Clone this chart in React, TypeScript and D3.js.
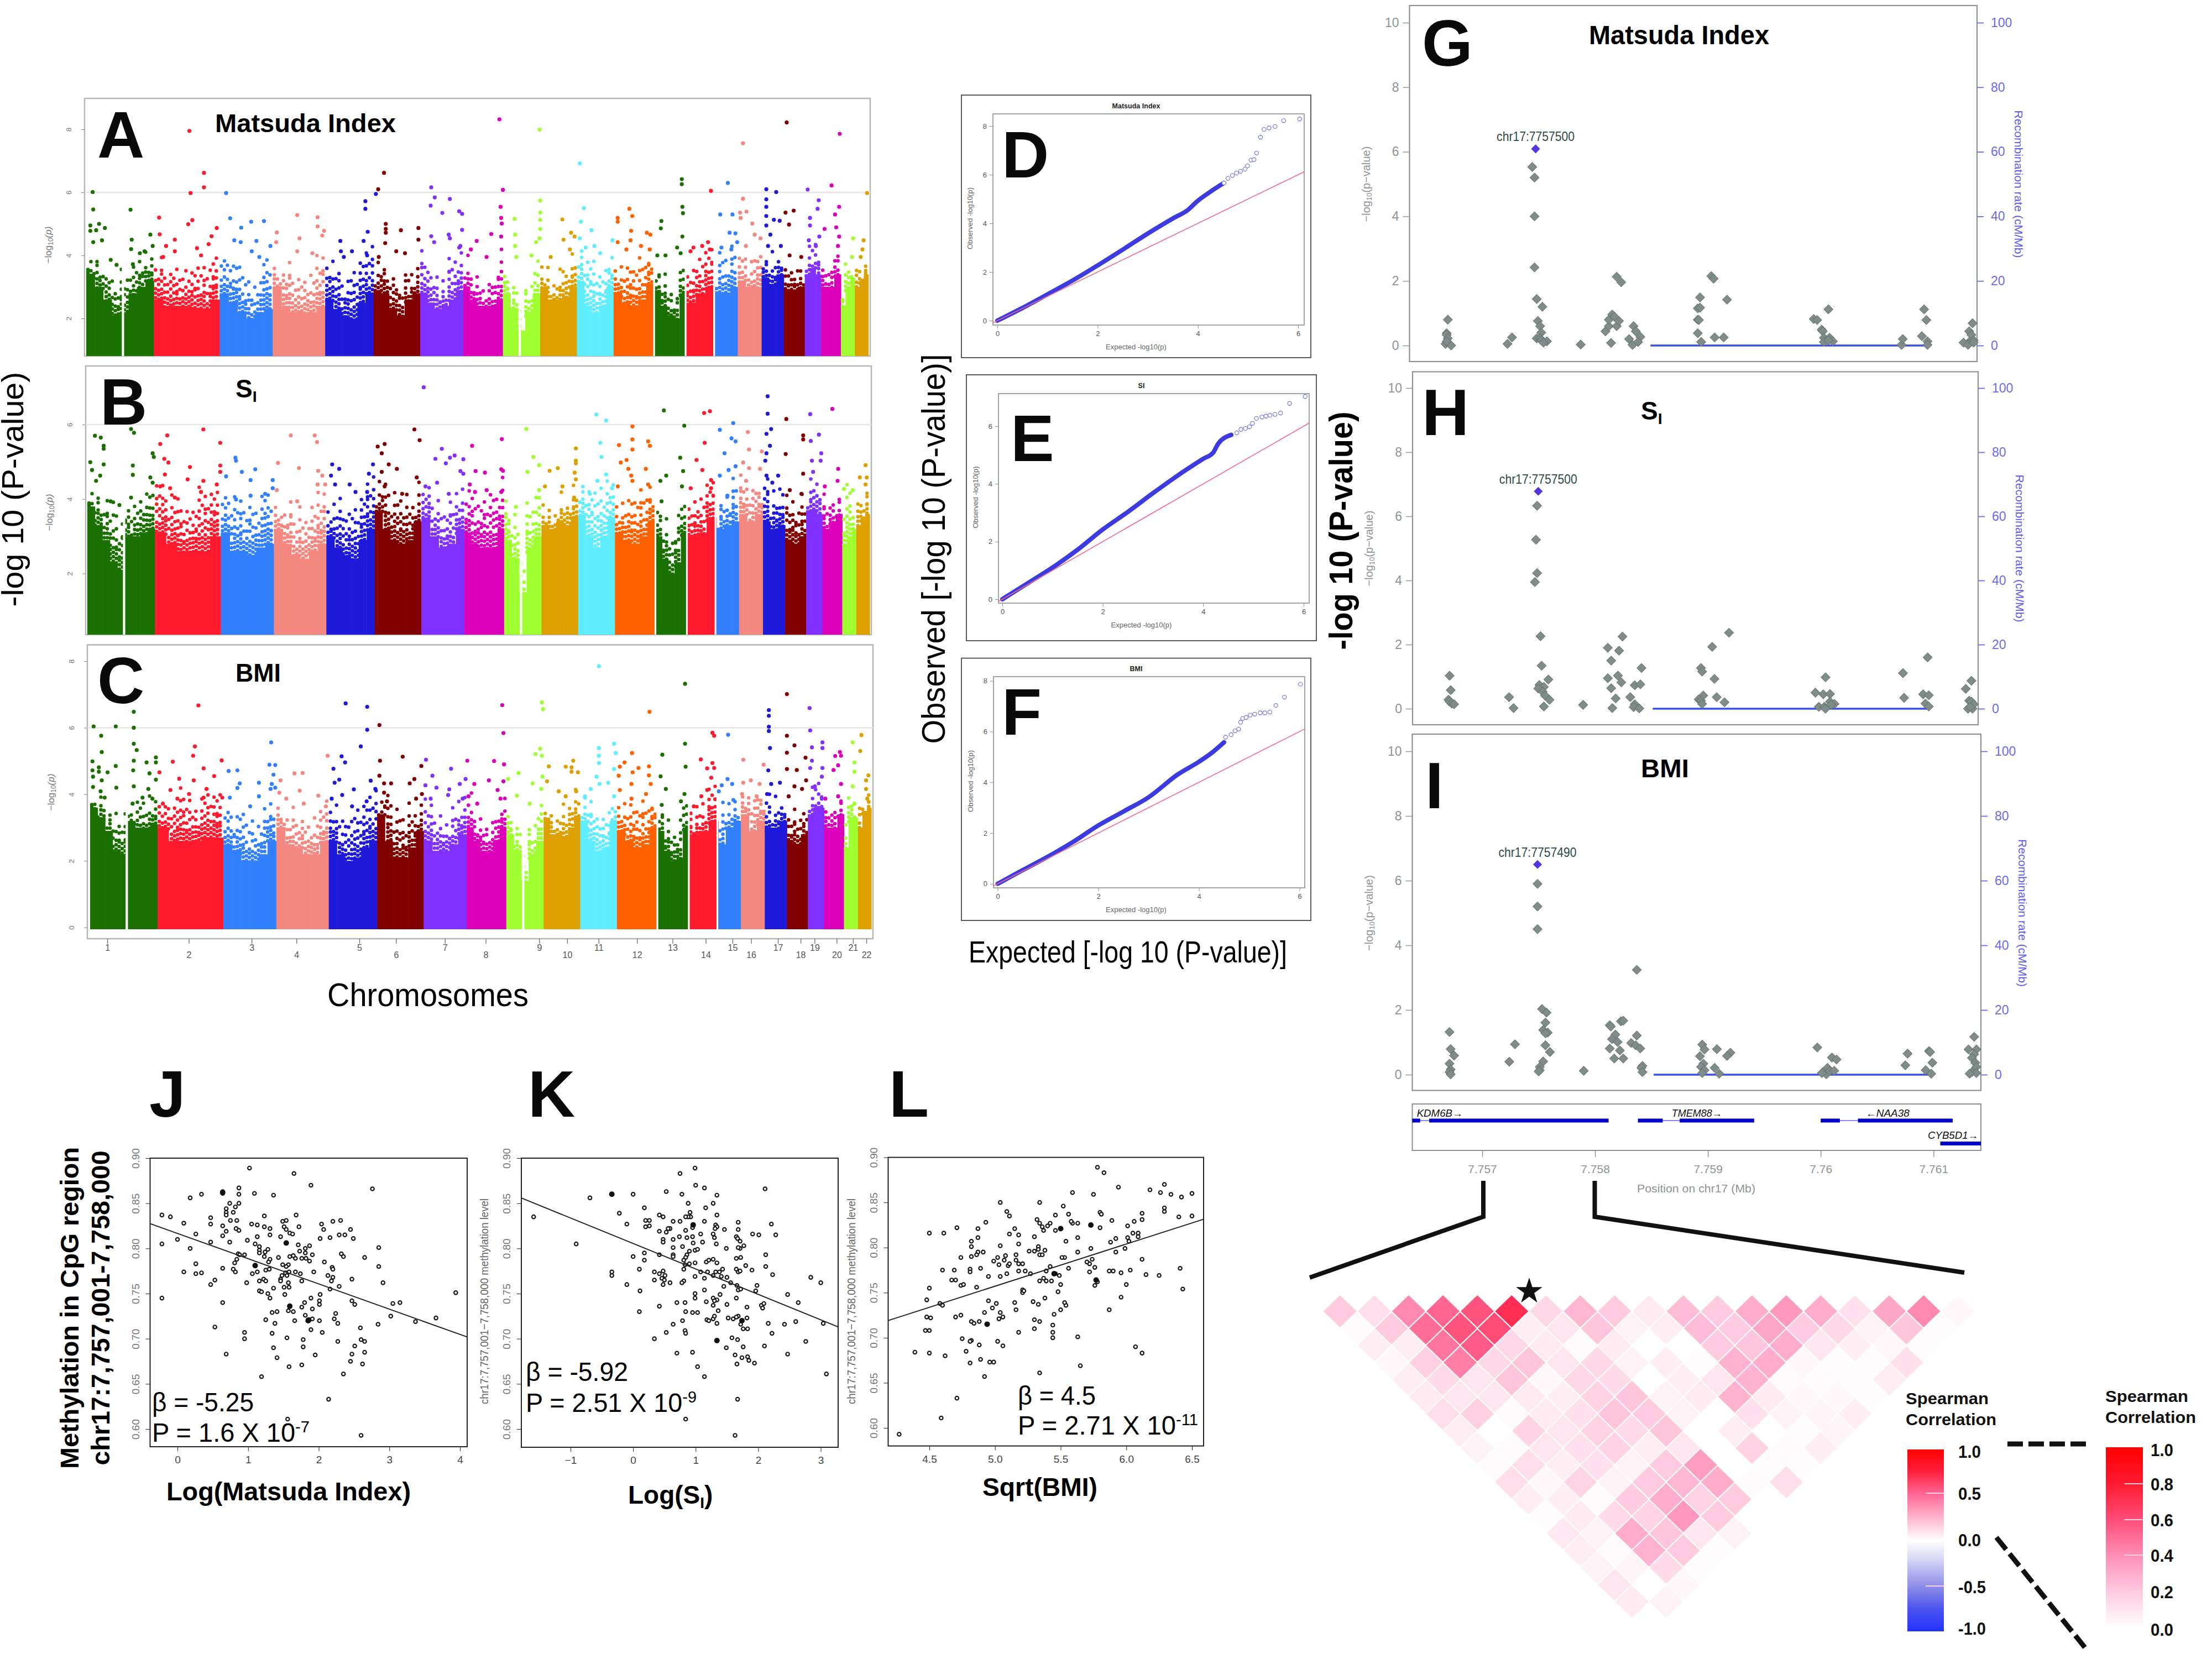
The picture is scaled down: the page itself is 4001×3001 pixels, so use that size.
import * as d3 from "d3";
import { useEffect, useRef } from "react";

const FONT = "'Liberation Sans', Arial, sans-serif";

// -----------------------------
// MANHATTAN DATA (plot units along the genome)
// -----------------------------
const chrStart = [0, 116, 229, 320, 410, 493, 573, 647, 715, 779, 842, 905, 975, 1029, 1079, 1118, 1159, 1197, 1233, 1261, 1295, 1319, 1342];
const chrColors = ["#1a7000", "#ff1a2e", "#3380ff", "#f48880", "#1f1ad9", "#800000", "#8030ff", "#dd00bb", "#a0ff30", "#dda000", "#60eeff", "#ff6000", "#1a7000", "#ff1a2e", "#3380ff", "#f48880", "#1f1ad9", "#800000", "#8030ff", "#dd00bb", "#a0ff30", "#dda000"];
const chrLabels = ["1", "2", "3", "4", "5", "6", "7", "8", "9", "10", "11", "12", "13", "14", "15", "16", "17", "18", "19", "20", "21", "22"];
const chrTicks = [30, 170, 278, 355, 463, 526, 610, 680, 772, 820, 874, 940, 1001, 1058, 1104, 1136, 1182, 1221, 1245, 1283, 1311, 1334];
const gaps = [[61, 65], [742, 746], [973, 976], [1027, 1030], [1076, 1079]];

const solidA = [[3.4, 3.0, 2.6, 2.1, 2.2, 2.8, 3.0, 3.2], [2.6, 2.4, 2.4, 2.4, 2.3, 2.3, 2.6], [2.8, 2.5, 2.2, 2.0, 2.2, 2.3], [3.0, 2.4, 2.2, 2.2, 2.2, 2.4], [2.6, 2.3, 2.1, 2.0, 2.5, 2.8], [2.9, 2.8, 2.3, 2.1, 2.6, 2.8], [2.8, 2.5, 2.3, 2.4, 2.6, 2.9], [3.0, 2.6, 2.4, 2.4, 2.4, 2.6], [2.8, 2.3, 1.6, 2.2, 2.8], [3.0, 2.6, 2.6, 2.7, 3.0], [3.2, 2.4, 2.2, 2.4, 3.0], [2.8, 2.5, 2.4, 2.6, 3.1], [2.9, 2.4, 2.1, 2.0, 2.8], [2.5, 2.8, 3.0], [2.8, 2.8, 3.0], [3.2, 3.0, 3.0], [3.3, 3.1, 3.4], [2.9, 2.9, 3.0], [3.4, 3.6, 3.4], [3.0, 3.0, 3.4], [2.4, 3.0, 3.3], [3.0, 3.2, 3.4]];
const cloudA = [[4.0, 3.9, 3.5, 3.0, 3.5, 3.6, 3.8, 3.8], [3.8, 3.6, 3.6, 3.5, 3.7, 3.5, 3.8], [3.9, 3.8, 3.4, 3.0, 3.2, 4.0], [3.6, 3.6, 3.4, 3.3, 3.3, 3.9], [3.9, 3.5, 3.2, 3.5, 3.8, 4.0], [3.7, 3.6, 3.4, 3.0, 3.4, 3.6], [4.0, 3.4, 3.2, 3.3, 3.8, 3.9], [3.7, 3.5, 3.2, 3.0, 3.2, 3.9], [3.3, 3.0, 2.2, 2.9, 3.7], [3.7, 3.4, 3.3, 3.6, 3.8], [4.3, 3.9, 3.6, 3.5, 3.8], [3.6, 3.6, 3.6, 3.6, 4.1], [3.6, 3.2, 2.8, 2.6, 3.6], [3.5, 3.9, 4.1], [3.8, 3.9, 4.0], [4.0, 3.6, 4.0], [4.0, 3.8, 4.0], [3.6, 3.4, 3.6], [4.0, 4.2, 4.0], [3.5, 3.5, 4.2], [2.9, 3.6, 4.0], [3.5, 3.7, 3.7]];
const dotsA = [
  [[11, 6.01], [12, 5.46], [7, 4.95], [22, 5.0], [32, 4.87], [17, 4.8], [7, 4.78], [27, 4.48], [12, 4.42], [42, 3.86], [52, 3.7], [76, 5.45], [78, 4.5], [77, 4.2], [100, 4.13], [110, 4.66], [114, 4.3], [92, 4.07], [80, 3.72]],
  [[125, 5.2], [126, 4.67], [137, 4.3], [152, 4.5], [152, 4.13], [177, 7.95], [179, 5.98], [202, 6.62], [202, 6.16], [182, 5.12], [175, 4.99], [224, 4.87], [215, 4.61], [210, 4.36], [190, 4.23], [197, 4.0], [132, 3.95]],
  [[240, 5.98], [247, 5.18], [266, 4.88], [283, 5.07], [305, 5.09], [254, 4.48], [265, 4.42], [292, 4.46], [284, 4.13], [316, 4.3], [297, 3.95]],
  [[327, 4.73], [362, 5.28], [366, 4.54], [397, 5.21], [397, 4.92], [408, 4.78], [326, 4.42], [362, 4.13], [388, 4.07], [405, 4.63]],
  [[479, 5.72], [479, 5.48], [497, 5.95], [483, 4.75], [436, 4.46], [476, 4.46], [456, 4.13], [437, 4.13], [442, 3.95], [482, 4.0]],
  [[501, 6.1], [511, 6.62], [514, 5.0], [514, 4.84], [514, 4.72], [513, 4.39], [540, 4.8], [570, 4.87], [570, 4.5], [532, 4.13], [547, 4.07], [502, 3.95]],
  [[592, 6.16], [598, 5.84], [591, 5.58], [624, 5.79], [611, 5.35], [640, 5.4], [645, 5.32], [645, 4.81], [592, 4.61], [622, 4.66], [597, 4.42], [642, 4.3], [624, 4.54], [640, 4.25]],
  [[709, 8.32], [715, 6.08], [711, 5.54], [712, 5.19], [713, 5.01], [695, 4.68], [670, 4.46], [712, 4.6], [660, 4.19], [687, 3.95]],
  [[735, 5.16], [736, 4.66], [736, 4.3], [738, 3.95], [778, 7.99], [779, 5.74], [779, 5.36], [779, 5.13], [779, 4.84], [778, 4.54], [772, 4.42], [764, 4.0]],
  [[817, 5.14], [832, 4.72], [819, 4.5], [830, 4.19], [838, 4.6], [797, 3.95]],
  [[847, 6.92], [854, 5.5], [849, 5.07], [867, 4.8], [847, 4.54], [872, 4.3], [903, 4.48], [882, 4.07], [857, 4.25]],
  [[912, 5.19], [932, 5.48], [937, 5.25], [912, 5.07], [935, 4.78], [962, 4.72], [934, 4.48], [968, 4.66], [912, 4.42], [952, 4.3], [967, 4.19], [927, 4.19]],
  [[987, 5.09], [986, 4.86], [1022, 6.42], [1022, 6.26], [1023, 5.54], [1024, 5.34], [1023, 4.6], [1014, 4.25], [980, 4.0], [994, 4.0], [1020, 4.07]],
  [[1072, 6.05], [1067, 4.42], [1042, 4.25], [1057, 4.3], [1037, 4.13], [1070, 4.19]],
  [[1101, 6.3], [1088, 5.3], [1109, 5.3], [1117, 4.42], [1104, 4.72], [1114, 4.7], [1090, 4.25], [1107, 4.19]],
  [[1127, 7.56], [1127, 5.8], [1122, 5.36], [1133, 5.39], [1123, 5.19], [1143, 5.01], [1157, 4.54], [1132, 4.3], [1147, 4.66]],
  [[1167, 6.1], [1167, 5.78], [1167, 5.54], [1167, 5.25], [1167, 4.95], [1184, 6.01], [1190, 5.1], [1174, 4.66], [1192, 4.3], [1170, 4.3], [1180, 5.13]],
  [[1202, 8.22], [1214, 5.42], [1200, 5.36], [1206, 4.98], [1207, 4.0], [1227, 3.95]],
  [[1238, 6.09], [1257, 5.75], [1255, 5.48], [1242, 5.19], [1242, 4.95], [1258, 4.6], [1240, 4.48], [1252, 4.3]],
  [[1293, 7.86], [1279, 6.22], [1292, 5.54], [1285, 5.3], [1287, 4.89], [1267, 4.84], [1292, 4.6], [1290, 4.3]],
  [[1316, 4.54], [1314, 3.95]],
  [[1340, 5.98], [1334, 4.48], [1332, 4.19], [1329, 3.95]],
];

const solidB = [[3.8, 3.3, 2.9, 2.3, 2.1, 3.0, 3.0, 3.1, 3.2], [3.1, 2.8, 2.6, 2.6, 2.6, 3.0], [3.1, 2.6, 2.6, 2.5, 2.7, 2.8], [3.2, 2.8, 2.5, 2.4, 2.6, 2.8], [3.0, 2.7, 2.5, 2.4, 2.9, 3.2], [3.7, 3.2, 2.9, 2.8, 2.9, 3.4], [3.5, 3.0, 2.7, 2.8, 3.2], [3.1, 2.8, 2.7, 2.7, 2.7, 3.2], [2.9, 2.4, 1.5, 2.7, 3.0], [3.3, 3.2, 3.4, 3.3, 3.5], [3.6, 3.0, 2.7, 3.0, 3.5], [3.1, 2.9, 2.8, 3.0, 3.4], [3.0, 2.4, 2.0, 2.3, 3.1], [3.0, 3.1, 3.5], [3.2, 3.3, 3.4], [3.6, 3.4, 3.6], [3.4, 3.2, 3.3], [2.9, 2.8, 3.0], [3.7, 3.7, 3.6], [3.2, 3.4, 3.6], [2.8, 3.0, 3.2], [3.3, 3.5, 3.6]];
const cloudB = [[4.3, 4.1, 3.9, 3.6, 3.3, 3.8, 3.8, 4.0, 4.2], [4.3, 4.0, 3.7, 3.9, 4.2, 4.1], [4.1, 3.9, 3.8, 3.8, 3.9, 4.2], [3.8, 3.7, 3.6, 3.6, 3.8, 4.1], [3.8, 3.7, 3.7, 3.8, 4.0, 4.4], [4.4, 4.2, 4.0, 4.0, 3.9, 4.1], [4.2, 3.9, 3.7, 3.8, 4.1], [4.1, 4.1, 3.9, 4.0, 4.1, 4.3], [3.7, 3.4, 2.4, 3.7, 4.0], [3.9, 3.8, 3.9, 3.9, 4.1], [4.4, 4.3, 4.0, 4.2, 4.3], [3.9, 4.0, 4.1, 4.0, 4.3], [3.8, 3.4, 3.0, 3.4, 3.9], [3.9, 4.0, 4.3], [3.8, 4.0, 4.3], [4.4, 4.1, 4.2], [4.6, 4.0, 4.2], [4.0, 3.7, 4.1], [4.3, 4.3, 4.2], [3.8, 3.9, 4.1], [3.6, 4.2, 4.2], [3.9, 4.2, 4.4]];
const dotsB = [
  [[13, 5.7], [23, 5.65], [28, 5.43], [28, 5.35], [5, 4.99], [28, 4.93], [8, 4.78], [22, 4.63], [15, 4.49], [75, 5.88], [80, 5.78], [78, 4.9], [78, 4.65], [112, 5.23], [114, 5.13], [108, 4.58], [112, 4.44], [75, 4.04], [40, 3.94], [55, 3.84]],
  [[125, 5.48], [137, 5.71], [132, 5.08], [139, 4.98], [133, 4.66], [199, 5.87], [228, 5.51], [176, 4.86], [228, 4.9], [172, 4.53], [228, 4.73], [199, 4.49], [222, 4.39], [142, 4.29], [195, 4.19], [150, 4.04], [125, 4.34]],
  [[254, 5.11], [255, 5.03], [265, 4.73], [288, 4.8], [280, 4.51], [238, 4.61], [318, 4.51], [255, 3.99], [305, 4.14], [280, 4.09], [318, 4.29]],
  [[327, 4.97], [349, 5.71], [390, 5.71], [394, 5.53], [363, 4.83], [396, 4.76], [403, 4.63], [408, 4.39], [395, 4.39], [325, 4.24], [360, 3.94]],
  [[420, 4.93], [432, 4.81], [418, 4.63], [490, 4.93], [483, 4.68], [425, 4.39], [450, 4.39], [480, 4.19], [460, 4.19]],
  [[498, 5.41], [510, 5.48], [505, 5.23], [517, 4.93], [531, 4.81], [505, 4.73], [561, 5.87], [570, 5.58], [565, 4.58], [510, 4.34], [540, 4.14]],
  [[577, 7.0], [608, 5.35], [630, 5.17], [597, 5.08], [622, 5.11], [615, 4.96], [645, 5.07], [640, 4.75], [645, 4.68], [600, 4.44], [620, 4.14], [580, 4.34]],
  [[660, 5.43], [711, 5.61], [666, 4.75], [682, 4.71], [710, 4.8], [713, 4.76], [656, 4.39], [685, 4.24], [710, 4.19], [665, 4.19]],
  [[753, 5.88], [765, 5.13], [775, 4.91], [755, 4.73], [735, 3.79], [775, 4.24], [770, 4.04]],
  [[838, 5.36], [838, 5.03], [838, 4.96], [793, 4.76], [807, 4.83], [836, 4.71], [838, 4.53], [815, 4.34], [785, 4.34], [835, 4.04]],
  [[873, 6.27], [890, 6.11], [880, 5.51], [882, 5.13], [890, 4.66], [875, 4.49], [862, 4.14], [900, 4.29]],
  [[935, 5.95], [912, 5.45], [935, 5.6], [935, 5.33], [962, 5.55], [965, 5.43], [925, 5.05], [915, 4.98], [928, 4.81], [933, 4.63], [958, 4.81], [935, 4.49], [962, 4.39], [910, 4.34]],
  [[989, 6.38], [1024, 5.97], [1017, 5.11], [1022, 4.75], [993, 4.63], [983, 4.49], [1020, 4.34], [985, 3.94]],
  [[1058, 6.31], [1068, 6.36], [1059, 5.51], [1045, 5.05], [1055, 4.78], [1070, 4.51], [1035, 4.29], [1070, 4.29]],
  [[1085, 5.86], [1108, 6.04], [1105, 5.63], [1112, 5.55], [1093, 5.23], [1112, 4.88], [1100, 4.78], [1085, 4.63], [1098, 4.09]],
  [[1133, 5.8], [1135, 5.33], [1157, 5.28], [1125, 4.98], [1135, 4.83], [1154, 4.81], [1130, 4.49]],
  [[1167, 6.76], [1167, 6.29], [1173, 5.88], [1165, 5.75], [1171, 5.43], [1165, 5.23], [1163, 5.03], [1165, 4.63], [1185, 4.63], [1175, 4.44]],
  [[1199, 6.15], [1228, 5.71], [1228, 5.6], [1198, 5.21], [1228, 4.68], [1205, 4.24], [1225, 4.14]],
  [[1240, 6.28], [1255, 5.73], [1241, 5.56], [1259, 5.23], [1243, 5.03], [1258, 5.03], [1245, 4.73]],
  [[1278, 6.42], [1288, 4.81], [1265, 4.34], [1287, 4.49]],
  [[1298, 4.27], [1313, 4.24]],
  [[1335, 4.91], [1325, 4.58], [1337, 4.58], [1335, 4.39]],
];

const solidC = [[3.6, 3.3, 2.9, 2.3, 2.2, 3.2, 3.0, 3.0, 3.1], [3.0, 2.6, 2.6, 2.6, 2.7, 2.7], [2.5, 2.3, 2.0, 2.0, 2.2, 2.6], [3.0, 2.5, 2.4, 2.2, 2.2, 2.6], [2.6, 2.2, 2.0, 2.1, 2.4, 2.6], [3.4, 2.6, 2.1, 2.1, 2.4, 2.9], [2.6, 2.3, 2.3, 2.5, 2.8], [3.0, 2.6, 2.3, 2.3, 2.6, 3.0], [2.8, 2.3, 1.4, 2.2, 2.6], [3.3, 2.8, 2.8, 2.7, 3.0, 3.3], [3.2, 2.6, 2.3, 2.4, 3.2], [2.9, 2.6, 2.4, 2.5, 3.0], [2.9, 2.3, 2.0, 2.1, 3.0], [2.8, 2.9, 3.2], [2.5, 3.0, 3.2], [3.4, 2.9, 3.2], [3.0, 3.0, 3.2], [2.6, 2.5, 2.8], [3.4, 3.6, 3.6], [3.0, 3.0, 3.4], [2.4, 3.3, 3.3], [3.0, 3.5, 3.6]];
const cloudC = [[4.1, 3.9, 3.5, 3.3, 3.3, 3.5, 3.7, 3.7, 3.7], [3.7, 3.8, 3.9, 3.6, 3.9, 3.9], [3.5, 3.4, 3.2, 3.1, 3.3, 3.6], [3.6, 3.3, 3.2, 3.1, 3.2, 3.6], [3.7, 3.2, 3.3, 3.6, 3.7, 3.9], [3.9, 3.8, 3.4, 3.2, 3.5, 3.7], [3.7, 3.3, 3.2, 3.4, 3.7], [3.8, 3.4, 3.2, 3.2, 3.4, 3.8], [3.3, 3.0, 2.2, 3.0, 3.6], [3.6, 3.5, 3.5, 3.5, 3.8, 3.8], [4.0, 3.8, 3.3, 3.4, 3.7], [3.7, 3.7, 3.6, 3.5, 3.9], [3.6, 3.0, 2.8, 2.9, 3.7], [3.5, 3.6, 4.1], [3.5, 3.6, 3.7], [3.9, 3.7, 3.9], [3.9, 3.6, 3.8], [3.3, 3.2, 3.6], [3.9, 4.2, 4.1], [3.4, 3.5, 3.9], [3.2, 3.7, 3.9], [3.6, 3.8, 4.1]];
const dotsC = [
  [[6, 6.04], [44, 6.04], [75, 6.48], [75, 6.0], [19, 5.76], [75, 5.52], [80, 5.33], [20, 5.27], [4, 4.99], [15, 4.81], [44, 4.85], [75, 5.01], [74, 4.72], [97, 4.96], [113, 5.11], [113, 4.96], [4, 4.72], [15, 4.68], [30, 4.66], [5, 4.53], [20, 4.42], [5, 4.22], [45, 4.2], [18, 4.09], [102, 4.63], [113, 4.44], [100, 4.16], [75, 4.24], [25, 3.9], [90, 3.9], [73, 3.72], [107, 3.87]],
  [[186, 6.67], [180, 5.44], [177, 5.16], [142, 4.98], [226, 5.02], [195, 4.78], [213, 4.55], [119, 4.66], [153, 4.47], [178, 4.42], [200, 4.16], [138, 4.13], [170, 4.01], [195, 3.9], [227, 3.9], [150, 3.87], [125, 3.72]],
  [[311, 5.56], [238, 4.7], [253, 4.72], [308, 4.89], [318, 4.88], [315, 4.59], [257, 4.33], [290, 4.35], [312, 4.31], [253, 4.19], [310, 4.16], [318, 4.2], [240, 3.9], [290, 3.94], [275, 3.64]],
  [[408, 5.16], [351, 4.63], [365, 4.64], [327, 4.42], [360, 4.11], [325, 4.05], [392, 3.96], [337, 3.87], [367, 3.72], [405, 3.64]],
  [[439, 6.73], [476, 6.63], [476, 5.94], [465, 5.44], [432, 5.14], [438, 4.96], [418, 4.77], [420, 4.35], [428, 4.44], [482, 4.41], [453, 4.15], [415, 3.87], [433, 3.98], [490, 4.16], [450, 3.64], [475, 3.79]],
  [[497, 6.08], [498, 5.01], [537, 5.13], [569, 4.85], [497, 4.56], [557, 4.46], [505, 4.33], [517, 4.33], [549, 4.33], [505, 4.05], [570, 4.01], [510, 3.79], [560, 3.87]],
  [[577, 5.04], [620, 4.77], [588, 4.56], [576, 4.27], [635, 4.31], [595, 4.2], [617, 4.15], [645, 4.46], [615, 3.98], [585, 3.87], [640, 3.87]],
  [[648, 5.01], [694, 5.0], [708, 6.68], [710, 5.84], [711, 4.9], [685, 4.42], [710, 4.39], [660, 4.31], [700, 4.13], [650, 3.94], [705, 3.87], [665, 3.72]],
  [[736, 4.64], [718, 4.46], [733, 3.96], [776, 6.76], [778, 6.56], [773, 5.37], [765, 5.21], [776, 5.16], [777, 4.53], [760, 4.33], [775, 4.16], [755, 3.72]],
  [[788, 4.84], [830, 5.01], [817, 4.83], [827, 4.81], [827, 4.68], [838, 4.66], [785, 4.39], [805, 4.09], [835, 4.09], [817, 3.94]],
  [[874, 7.85], [900, 5.52], [874, 5.39], [874, 5.16], [874, 4.94], [903, 5.24], [900, 4.76], [870, 4.53], [875, 4.31], [860, 4.16], [890, 4.35], [900, 3.94], [850, 3.9]],
  [[961, 6.48], [931, 5.24], [918, 4.96], [910, 4.83], [942, 4.79], [960, 4.84], [932, 4.66], [908, 4.56], [960, 4.57], [930, 4.31], [963, 4.31], [910, 4.13], [955, 4.01], [930, 3.87]],
  [[1022, 7.32], [1022, 5.52], [983, 5.19], [1023, 4.83], [980, 4.54], [989, 4.16], [1021, 4.01], [982, 3.68], [1015, 3.79]],
  [[1069, 5.85], [1072, 5.76], [1049, 5.05], [1069, 4.94], [1060, 4.78], [1072, 4.79], [1067, 4.5], [1060, 4.13], [1050, 3.94], [1037, 3.64]],
  [[1096, 5.79], [1095, 4.46], [1085, 4.27], [1103, 4.31], [1080, 4.09], [1105, 3.83]],
  [[1122, 5.04], [1157, 4.89], [1135, 4.42], [1122, 4.35], [1150, 4.31], [1120, 4.01], [1145, 3.94]],
  [[1166, 6.53], [1166, 6.36], [1166, 6.03], [1166, 5.9], [1168, 5.39], [1165, 4.72], [1185, 4.35], [1170, 4.31], [1163, 4.01]],
  [[1197, 7.01], [1197, 5.76], [1210, 5.47], [1197, 5.25], [1197, 4.76], [1214, 4.73], [1229, 5.1], [1230, 4.42], [1210, 4.24], [1223, 4.16], [1200, 3.94]],
  [[1236, 6.59], [1237, 5.92], [1258, 5.56], [1240, 5.41], [1258, 5.39], [1240, 5.01], [1258, 4.79], [1237, 4.79], [1257, 4.53], [1245, 4.24]],
  [[1288, 5.27], [1280, 5.15], [1290, 5.16], [1285, 4.87], [1277, 4.73], [1290, 4.31], [1263, 3.87], [1285, 3.94]],
  [[1310, 5.56], [1313, 4.96], [1313, 4.68], [1310, 4.24], [1313, 3.72]],
  [[1325, 5.78], [1323, 5.3], [1337, 4.57], [1333, 4.42], [1333, 4.16], [1335, 3.87]],
];

// -----------------------------
// QQ DATA
// -----------------------------
const qqDenseD = [[0, 0], [0.5, 0.52], [1, 1.08], [1.5, 1.65], [2, 2.27], [2.5, 2.92], [3, 3.58], [3.5, 4.2], [3.8, 4.55], [4, 4.93], [4.25, 5.3], [4.52, 5.66]];
const qqTailD = [[4.52, 5.66], [4.6, 5.85], [4.69, 5.97], [4.77, 6.07], [4.85, 6.14], [4.94, 6.23], [4.99, 6.36], [5.06, 6.6], [5.12, 6.62], [5.17, 6.89], [5.25, 7.54], [5.32, 7.86], [5.42, 7.92], [5.54, 7.98], [5.71, 8.22], [6.03, 8.29]];
const qqDenseE = [[0, 0], [0.5, 0.55], [1, 1.1], [1.5, 1.72], [2, 2.42], [2.5, 3.03], [3, 3.68], [3.5, 4.3], [4, 4.87], [4.2, 5.09], [4.3, 5.4], [4.56, 5.7]];
const qqTailE = [[4.67, 5.77], [4.75, 5.89], [4.84, 5.92], [4.92, 5.98], [4.98, 6.1], [5.06, 6.27], [5.17, 6.32], [5.25, 6.35], [5.33, 6.38], [5.43, 6.41], [5.54, 6.46], [5.72, 6.79], [6.03, 7.03]];
const qqDenseF = [[0, 0], [0.5, 0.54], [1, 1.07], [1.5, 1.65], [2, 2.3], [2.5, 2.85], [3, 3.41], [3.58, 4.31], [4, 4.81], [4.26, 5.17], [4.5, 5.58]];
const qqTailF = [[4.53, 5.78], [4.64, 5.88], [4.72, 6.03], [4.79, 6.1], [4.83, 6.37], [4.87, 6.52], [4.94, 6.56], [5.02, 6.65], [5.11, 6.69], [5.22, 6.74], [5.31, 6.74], [5.41, 6.77], [5.53, 7.03], [5.7, 7.36], [6.02, 7.87]];
const qqXTicks = [0, 2, 4, 6];
const qqYTicksTall = [0, 2, 4, 6, 8];
const qqYTicksShort = [0, 2, 4, 6];

// -----------------------------
// REGIONAL PLOT DATA (position in kb on chr17, -log10 p)
// -----------------------------
const locusG = [[7756.72, 0.8], [7756.71, 0.38], [7756.71, 0.33], [7756.72, 0.22], [7756.7, 0.05], [7756.75, 0], [7756.71, 0.13], [7757.25, 0.05], [7757.29, 0.25], [7757.47, 5.53], [7757.49, 5.2], [7757.49, 4.0], [7757.49, 2.42], [7757.51, 1.44], [7757.56, 1.2], [7757.52, 0.76], [7757.54, 0.6], [7757.55, 0.4], [7757.51, 0.22], [7757.54, 0.22], [7757.55, 0.16], [7757.6, 0.13], [7757.57, 0.09], [7757.9, 0.03], [7758.12, 0.44], [7758.15, 0.6], [7758.15, 0.8], [7758.18, 0.96], [7758.2, 0.89], [7758.22, 0.6], [7758.24, 0.76], [7758.22, 2.13], [7758.26, 1.96], [7758.17, 0.08], [7758.33, 0.2], [7758.36, 0.02], [7758.37, 0.6], [7758.39, 0.44], [7758.43, 0.27], [7758.41, 0.11], [7758.96, 1.49], [7758.94, 1.15], [7758.96, 1.17], [7758.94, 0.8], [7758.95, 0.79], [7758.94, 0.38], [7758.97, 0.11], [7759.06, 2.15], [7759.08, 2.07], [7759.2, 1.42], [7759.09, 0.25], [7759.17, 0.25], [7759.97, 0.82], [7760.0, 0.79], [7760.1, 1.12], [7760.04, 0.49], [7760.05, 0.44], [7760.06, 0.24], [7760.06, 0.11], [7760.11, 0.24], [7760.14, 0.13], [7760.1, 0.16], [7760.75, 0.02], [7760.76, 0.2], [7760.93, 0.29], [7760.95, 1.12], [7760.97, 0.79], [7760.98, 0.13], [7760.98, 0.02], [7761.38, 0.69], [7761.35, 0.44], [7761.37, 0.33], [7761.35, 0.11], [7761.3, 0.09], [7761.39, 0.16], [7761.34, 0.02], [7761.39, 0.09]];
const leadG = [7757.5, 6.09];
const locusH = [[7756.71, 1.03], [7756.72, 0.58], [7756.7, 0.28], [7756.71, 0.22], [7756.73, 0.16], [7756.75, 0.14], [7757.24, 0.36], [7757.28, 0.02], [7757.49, 6.33], [7757.48, 5.27], [7757.49, 4.23], [7757.47, 3.95], [7757.52, 2.26], [7757.53, 1.34], [7757.59, 0.91], [7757.51, 0.74], [7757.55, 0.68], [7757.5, 0.63], [7757.54, 0.53], [7757.56, 0.41], [7757.6, 0.28], [7757.55, 0.07], [7757.9, 0.12], [7758.12, 1.9], [7758.25, 2.25], [7758.22, 1.81], [7758.15, 1.5], [7758.42, 1.27], [7758.12, 0.95], [7758.21, 1.03], [7758.24, 0.82], [7758.15, 0.64], [7758.36, 0.73], [7758.41, 0.76], [7758.19, 0.32], [7758.32, 0.36], [7758.16, 0.02], [7758.36, 0.14], [7758.35, 0.05], [7758.4, 0.01], [7758.95, 1.27], [7758.96, 1.16], [7759.05, 1.93], [7759.2, 2.37], [7759.07, 0.93], [7759.09, 0.36], [7758.97, 0.41], [7758.93, 0.29], [7758.95, 0.25], [7758.96, 0.15], [7759.16, 0.2], [7759.97, 0.5], [7760.06, 0.98], [7760.04, 0.45], [7760.1, 0.46], [7760.1, 0.22], [7760.14, 0.15], [7760.0, 0.06], [7760.05, 0.06], [7760.06, 0], [7760.11, 0.12], [7760.75, 1.11], [7760.76, 0.34], [7760.93, 0.45], [7760.97, 1.6], [7760.98, 0.42], [7760.95, 0.16], [7760.98, 0.07], [7761.31, 0.62], [7761.36, 0.87], [7761.34, 0.25], [7761.36, 0.22], [7761.33, 0], [7761.37, 0], [7761.38, 0.14], [7761.35, 0.06]];
const leadH = [7757.5, 6.78];
const locusI = [[7756.71, 1.32], [7756.72, 0.79], [7756.75, 0.59], [7756.71, 0.34], [7756.72, 0.16], [7756.71, 0.08], [7756.72, 0.01], [7757.29, 0.94], [7757.24, 0.4], [7757.49, 5.9], [7757.49, 5.2], [7757.49, 4.5], [7757.53, 2.03], [7757.57, 1.92], [7757.56, 1.61], [7757.54, 1.38], [7757.58, 1.3], [7757.56, 1.28], [7757.56, 0.91], [7757.6, 0.7], [7757.54, 0.41], [7757.51, 0.24], [7757.51, 0.14], [7757.5, 0.1], [7757.9, 0.12], [7758.13, 1.53], [7758.14, 1.49], [7758.23, 1.65], [7758.25, 1.67], [7758.18, 1.24], [7758.37, 1.21], [7758.15, 1.1], [7758.2, 1.01], [7758.32, 0.98], [7758.36, 0.91], [7758.4, 0.81], [7758.13, 0.81], [7758.22, 0.75], [7758.17, 0.5], [7758.25, 0.5], [7758.37, 3.24], [7758.42, 0.27], [7758.41, 0.21], [7758.42, 0.08], [7758.95, 0.93], [7758.97, 0.78], [7758.93, 0.57], [7759.08, 0.79], [7759.2, 0.68], [7759.17, 0.58], [7758.96, 0.34], [7758.94, 0.24], [7758.97, 0.14], [7758.95, 0.05], [7759.06, 0.21], [7759.1, 0.03], [7759.97, 0.84], [7760.1, 0.53], [7760.14, 0.47], [7760.06, 0.21], [7760.02, 0.08], [7760.05, 0.01], [7760.08, 0.11], [7760.12, 0.12], [7760.01, 0.05], [7760.77, 0.65], [7760.75, 0.29], [7760.96, 0.73], [7760.97, 0.7], [7760.99, 0.37], [7760.93, 0.14], [7760.98, 0.03], [7761.36, 1.17], [7761.31, 0.78], [7761.38, 0.78], [7761.36, 0.63], [7761.34, 0.52], [7761.37, 0.37], [7761.38, 0.24], [7761.34, 0.08], [7761.38, 0.05], [7761.32, 0.03]];
const leadI = [7757.49, 6.5];
const recombStart = 7758.52;
const recombEnd = 7760.97;
const posDomain = [7756.38, 7761.42];
const posTicks = [7757, 7758, 7759, 7760, 7761];
const posTickLabels = ["7.757", "7.758", "7.759", "7.76", "7.761"];
const leftTicks = [0, 2, 4, 6, 8, 10];
const rightTicks = [0, 20, 40, 60, 80, 100];
const geneExons = [[7756.38, 7756.45, 0], [7756.53, 7758.12, 0], [7758.38, 7758.6, 0], [7758.75, 7759.41, 0], [7760.0, 7760.17, 0], [7760.33, 7761.17, 0], [7761.06, 7761.42, 1]];
const geneIntrons = [[7756.45, 7756.53], [7758.6, 7758.75], [7760.17, 7760.33]];
const geneNames = ["KDM6B\u2192", "TMEM88\u2192", "\u2190NAA38", "CYB5D1\u2192"];
const geneNameStarts = [7756.42, 7758.68, 7760.4, 7760.95];
const geneNameRows = [0, 0, 0, 1];
const geneNameLengths = [83, 91, 79, 91];

// -----------------------------
// HEATMAP DATA (Spearman, one array per diagonal row)
// -----------------------------
const heatRows = [
  [0.2, 0.13, 0.42, 0.52, 0.58, 0.72, 0.15, 0.27, 0.2, 0.08, 0.25, 0.2, 0.3, 0.37, 0.3, 0.12, 0.32, 0.42, 0.03],
  [0.02, 0.2, 0.5, 0.58, 0.6, 0.06, 0.1, 0.22, 0.05, 0.07, 0.25, 0.2, 0.32, 0.2, 0.15, 0.05, 0.22, 0.01],
  [0.07, 0.07, 0.48, 0.55, 0.15, 0.08, 0.02, 0.08, 0, 0, 0.2, 0.22, 0.3, 0.1, 0.06, 0.03, 0.01],
  [0.03, 0.18, 0.45, 0.15, 0.22, 0.1, 0.15, 0.05, 0.06, 0.01, 0.28, 0.3, 0.03, 0.01, 0.01, 0.12],
  [0.07, 0.14, 0.1, 0.22, 0.03, 0.15, 0.14, 0, 0.06, 0.1, 0.28, 0.02, 0.02, 0.01, 0.07],
  [0.08, 0.1, 0.1, 0.08, 0.06, 0.17, 0.22, 0.05, 0.08, 0.28, 0.08, 0.03, 0.03, 0.01],
  [0.13, 0.18, 0.02, 0.08, 0.12, 0.22, 0.2, 0.05, 0, 0.12, 0.05, 0.04, 0.06],
  [0.07, 0, 0.17, 0.1, 0.17, 0.14, 0.22, 0, 0.07, 0, 0.01, 0.04],
  [0.05, 0.02, 0.1, 0.12, 0.17, 0.07, 0.1, 0, 0.17, 0.02, 0.06],
  [0.02, 0.13, 0.07, 0.12, 0.05, 0.2, 0.35, 0, 0.01, 0.01],
  [0.13, 0.03, 0.16, 0.05, 0.2, 0.27, 0.3, 0.02, 0.13],
  [0.06, 0.06, 0.02, 0.2, 0.3, 0.17, 0.2, 0],
  [0.01, 0.08, 0.14, 0.17, 0.37, 0.2, 0],
  [0.09, 0.05, 0.3, 0.22, 0.1, 0.05],
  [0.07, 0.02, 0.28, 0.2, 0.01],
  [0.05, 0.04, 0.14, 0.01],
  [0.1, 0, 0.03],
  [0.08, 0.05],
  [0],
];
const heatDomain = [0, 0.2, 0.4, 0.6, 0.8, 1];
const heatRange = ["#ffffff", "#ffcbdf", "#ff8fb6", "#ff4d78", "#ff1a38", "#ff0000"];
const legendLeftTicks = [1, 0.5, 0, -0.5, -1];
const legendLeftLabels = ["1.0", "0.5", "0.0", "-0.5", "-1.0"];
const legendRightTicks = [1, 0.8, 0.6, 0.4, 0.2, 0];
const legendRightLabels = ["1.0", "0.8", "0.6", "0.4", "0.2", "0.0"];

// -----------------------------
// SCATTER DATA
// -----------------------------
const scatterJ = [[1.02,.889],[1.65,.883],[1.89,.87],[2.76,.866],[.87,.867],[.87,.86],[.64,.863],[.64,.861],[1.09,.861],[1.36,.859],[.34,.86],[.18,.856],[.74,.85],[.87,.85],[.82,.846],[.69,.844],[.79,.84],[.69,.84],[.69,.837],[-.22,.837],[-.1,.835],[.47,.834],[.47,.827],[.09,.828],[1.23,.836],[1.68,.837],[.75,.831],[.84,.831],[.64,.825],[.69,.819],[.83,.822],[.87,.82],[1.05,.827],[1.13,.826],[1.23,.824],[1.31,.822],[1.49,.83],[1.54,.831],[1.51,.824],[1.54,.821],[1.59,.817],[1.63,.816],[1.72,.824],[2.04,.827],[2.2,.83],[2.31,.831],[2.45,.821],[2.07,.821],[2.02,.811],[2.16,.812],[2.29,.815],[2.37,.815],[2.49,.811],[.26,.816],[0,.81],[-.22,.805],[.47,.807],[.64,.814],[.74,.807],[.99,.809],[1.13,.813],[1.31,.815],[1.46,.813],[1.54,.806],[1.1,.805],[1.16,.802],[1.16,.798],[1.16,.795],[1.28,.799],[1.24,.796],[1.23,.791],[1.31,.788],[1.29,.785],[1.43,.79],[1.59,.791],[1.67,.789],[1.76,.789],[1.82,.789],[1.87,.786],[1.81,.795],[1.91,.793],[1.81,.8],[1.87,.803],[1.71,.804],[1.73,.797],[2.08,.785],[.18,.8],[.86,.794],[.88,.793],[.95,.793],[.84,.788],[.81,.784],[.79,.777],[.82,.774],[.64,.778],[.26,.783],[.09,.774],[.26,.772],[.34,.773],[.53,.765],[.47,.76],[.64,.74],[-.22,.745],[.53,.713],[.95,.707],[.95,.7],[.69,.683],[1.19,.658],[1.36,.69],[1.41,.679],[1.58,.669],[1.76,.671],[1.95,.682],[2.14,.633],[1.56,.611],[2.6,.593],[2.35,.661],[2.62,.672],[2.45,.675],[2.47,.683],[2.65,.685],[2.51,.692],[2.6,.699],[2.65,.697],[2.59,.712],[2.84,.716],[2.27,.697],[2.05,.707],[1.89,.71],[2.27,.717],[2.22,.722],[2.24,.728],[2.01,.72],[1.87,.721],[1.85,.721],[1.81,.726],[1.91,.722],[1.66,.72],[1.38,.717],[1.25,.721],[1.34,.729],[1.41,.73],[1.57,.731],[1.64,.73],[1.59,.736],[1.76,.735],[1.8,.74],[1.89,.745],[1.91,.733],[2.01,.738],[2.01,.742],[2.02,.749],[1.55,.701],[1.78,.699],[1.78,.691],[1.34,.706],[2.47,.742],[2.51,.738],[3.02,.725],[3.05,.739],[3.15,.74],[3.37,.719],[3.66,.723],[3.94,.751],[2.85,.801],[2.65,.79],[2.85,.78],[2.91,.762],[2.47,.766],[2.29,.758],[2.16,.755],[2.2,.768],[2.13,.77],[2.18,.764],[2.19,.779],[2.2,.777],[1.93,.774],[2.32,.794],[2.35,.791],[1.3,.777],[1.25,.776],[1.13,.774],[1.06,.772],[.98,.762],[1.16,.764],[1.22,.766],[1.25,.764],[1.16,.753],[1.19,.752],[1.28,.75],[1.31,.745],[1.36,.756],[1.46,.766],[1.48,.77],[1.53,.773],[1.57,.782],[1.64,.792],[1.54,.78],[1.49,.782],[1.58,.774],[1.67,.774],[1.74,.772],[1.76,.764],[1.46,.764],[1.51,.757],[1.52,.749],[1.57,.762],[1.58,.757],[1.55,.77]];
const scatterK = [[.99,.889],[.75,.883],[1,.87],[1.14,.867],[.53,.863],[.78,.86],[0,.86],[-.69,.856],[1.34,.859],[2.11,.866],[.88,.85],[1.28,.85],[.18,.845],[-.22,.839],[-1.59,.835],[.91,.84],[1.16,.845],[1.34,.837],[.42,.837],[.48,.835],[.92,.835],[.88,.835],[.84,.835],[1.14,.83],[.64,.83],[.75,.83],[1.68,.829],[.2,.831],[.26,.831],[-.1,.827],[.2,.824],[.26,.825],[.59,.822],[1.32,.826],[1.34,.824],[1.46,.821],[1.68,.821],[2.21,.827],[2.28,.815],[.42,.819],[.56,.822],[.53,.818],[.84,.82],[.95,.823],[1.08,.816],[1.28,.816],[1.31,.822],[.74,.813],[.86,.812],[.95,.813],[1.65,.813],[1.67,.811],[1.71,.808],[1.91,.816],[2.01,.815],[.48,.81],[.48,.807],[.64,.81],[.79,.802],[.96,.806],[1.11,.807],[1.3,.812],[1.33,.805],[1.49,.8],[1.71,.8],[1.77,.803],[1.68,.801],[-.91,.805],[.64,.801],[.64,.793],[.18,.795],[0,.791],[.42,.793],[.18,.787],[.64,.791],[.9,.797],[.86,.793],[.99,.798],[1.03,.799],[.84,.79],[.81,.787],[.99,.784],[1.17,.785],[1.21,.787],[1.28,.788],[1.34,.784],[1.65,.789],[1.72,.79],[2.12,.793],[2.12,.78],[1.8,.781],[1.9,.776],[2.23,.771],[.83,.782],[.81,.777],[.9,.783],[1.08,.774],[1.19,.774],[1.32,.774],[1.43,.777],[1.38,.774],[1.65,.777],[1.68,.774],[1.71,.775],[.81,.764],[.78,.762],[-.34,.774],[-.34,.77],[.1,.777],[.34,.774],[.48,.775],[.42,.772],[.46,.767],[.34,.765],[.51,.77],[.5,.765],[.59,.762],[.48,.76],[-.1,.76],[.11,.753],[.99,.769],[1.14,.767],[1.28,.77],[1.41,.769],[1.5,.768],[1.45,.758],[1.56,.762],[1.66,.759],[1.68,.754],[1.72,.755],[1.98,.759],[1.96,.753],[.99,.75],[.99,.745],[1.14,.754],[1.28,.745],[1.34,.743],[1.17,.741],[1.28,.737],[1.39,.749],[1.5,.738],[1.65,.745],[1.82,.735],[2.05,.737],[2.09,.739],[2.07,.734],[2.47,.749],[2.64,.74],[2.84,.768],[3,.762],[3.04,.717],[2.42,.716],[2.6,.719],[2.22,.706],[2.16,.717],[2.1,.692],[2.47,.683],[2.76,.697],[3.09,.661],[1.67,.699],[1.74,.679],[1.72,.716],[1.68,.725],[1.52,.723],[1.6,.722],[1.65,.724],[1.82,.723],[1.83,.711],[1.76,.711],[1.58,.701],[1.49,.69],[1.76,.691],[1.83,.68],[1.85,.676],[1.94,.673],[1.63,.682],[1.66,.672],[1.67,.633],[1.63,.593],[.84,.611],[1.14,.658],[1.03,.669],[.95,.685],[.7,.684],[.34,.7],[.53,.707],[.64,.716],[.83,.709],[.84,.706],[.79,.72],[.84,.73],[.7,.74],[.42,.736],[.83,.74],[.95,.729],[1.03,.729],[.1,.73],[1.18,.721],[1.21,.72],[1.28,.722],[1.3,.725],[1.34,.717],[1.36,.731],[1.3,.742]];
const scatterL = [[4.27,.593],[4.59,.611],[4.71,.633],[4.92,.657],[5.34,.661],[5.65,.669],[4.99,.673],[4.89,.676],[4.81,.672],[4.62,.68],[4.5,.683],[4.39,.684],[4.78,.685],[4.96,.673],[6.12,.683],[6.07,.69],[5.63,.701],[5.44,.7],[5.44,.706],[5.44,.714],[5.45,.726],[5.5,.731],[5.54,.736],[5.53,.739],[5.48,.751],[5.5,.759],[5.38,.744],[5.33,.737],[5.29,.74],[5.21,.75],[5.15,.739],[5.16,.731],[5.21,.753],[5.22,.752],[5.18,.706],[5.3,.71],[5.3,.72],[5.34,.718],[5.06,.691],[5.02,.696],[4.88,.692],[4.82,.697],[4.81,.696],[4.75,.699],[4.5,.708],[4.47,.708],[4.48,.723],[4.51,.722],[4.6,.736],[4.58,.738],[4.48,.742],[4.5,.755],[4.6,.775],[4.69,.775],[4.81,.776],[4.89,.777],[4.74,.789],[4.82,.807],[4.82,.801],[4.82,.79],[4.87,.795],[4.86,.792],[4.91,.795],[4.99,.785],[5.02,.789],[5.08,.791],[5.07,.786],[5.03,.781],[4.95,.768],[5.04,.768],[5.09,.771],[5.1,.78],[5.11,.782],[5.16,.792],[5.16,.786],[5.18,.782],[5.21,.782],[5.18,.774],[5.23,.774],[5.27,.771],[5.3,.796],[5.34,.792],[5.38,.797],[5.33,.801],[5.36,.792],[5.42,.779],[5.39,.774],[5.37,.766],[5.34,.763],[5.39,.763],[5.43,.763],[5.49,.769],[5.46,.771],[5.53,.789],[5.56,.777],[5.63,.795],[5.73,.799],[5.74,.787],[5.72,.782],[5.7,.784],[5.76,.778],[5.72,.773],[5.76,.758],[5.78,.762],[5.87,.774],[5.9,.774],[5.96,.772],[6.03,.775],[6,.759],[5.96,.745],[5.87,.731],[6.15,.77],[6.25,.769],[6.41,.777],[6.43,.754],[6.12,.787],[5.92,.795],[5.99,.799],[5.92,.81],[5.88,.806],[6.02,.807],[6.01,.811],[6.05,.816],[6.09,.816],[6.09,.812],[6.01,.824],[6.06,.829],[6.12,.838],[6.12,.831],[6.29,.84],[6.29,.844],[6.4,.834],[6.5,.835],[6.18,.864],[6.26,.861],[6.29,.87],[6.34,.859],[6.42,.856],[6.5,.86],[5.94,.867],[5.78,.889],[5.83,.883],[5.75,.859],[5.59,.861],[5.8,.839],[5.81,.837],[5.89,.83],[5.8,.822],[5.59,.827],[5.63,.827],[5.52,.846],[5.56,.837],[5.58,.829],[5.46,.836],[5.42,.827],[5.4,.824],[5.34,.85],[5.32,.831],[5.34,.827],[5.36,.823],[5.37,.819],[5.3,.812],[5.26,.796],[5.46,.819],[5.63,.811],[5.54,.807],[5.33,.798],[5.51,.789],[5.09,.84],[5.11,.835],[5.04,.85],[5.15,.821],[5.11,.815],[5.18,.814],[5.18,.804],[5.04,.802],[4.93,.828],[4.87,.821],[4.87,.811],[4.71,.822],[4.5,.816],[4.61,.816],[4.81,.773],[4.7,.764],[4.67,.764],[4.74,.758],[4.76,.759],[4.86,.756],[4.95,.741],[5.01,.738],[4.92,.728],[4.98,.733],[5.04,.728],[5.06,.723],[5.03,.721],[4.82,.718],[4.88,.718],[4.84,.716],[4.74,.725],[4.7,.723]];
const heavyJ = [[.64,.862],[1.54,.806],[1.85,.72],[1.59,.736],[1.1,.781]];
const heavyK = [[-.34,.86],[.96,.826],[1.74,.72],[1.34,.698]];
const heavyL = [[5.45,.771],[5.5,.821],[5.73,.825],[5.77,.764],[4.94,.715]];
const fitJ = [[-.39, .8275], [4.1, .702]];
const fitK = [[-1.79, .856], [3.28, .713]];
const fitL = [[4.185, .719], [6.59, .8315]];
const methTicks = [0.6, 0.65, 0.7, 0.75, 0.8, 0.85, 0.9];
const logTicksJ = [0, 1, 2, 3, 4];
const logTicksK = [-1, 0, 1, 2, 3];
const sqrtTicksL = [4.5, 5, 5.5, 6, 6.5];

type Sel = d3.Selection<any, any, any, any>;

function label(g: Sel, x: number, y: number, str: string, o: any = {}) {
  const t = g.append("text")
    .attr("transform", `translate(${x},${y})${o.rotate ? ` rotate(${o.rotate})` : ""}`)
    .attr("font-family", FONT)
    .attr("font-size", o.size ?? 20)
    .attr("font-weight", o.bold ? "bold" : "normal")
    .attr("font-style", o.italic ? "italic" : "normal")
    .attr("text-anchor", o.anchor ?? "start")
    .attr("fill", o.fill ?? "#000")
    .text(str);
  if (o.len) t.attr("textLength", o.len).attr("lengthAdjust", "spacingAndGlyphs");
  return t;
}

function panelLetter(g: Sel, x: number, y: number, str: string) {
  label(g, x, y, str, { size: 118, bold: true, fill: "#0a0a0a" });
}

function siTitle(g: Sel, x: number, y: number, size: number, bold = true) {
  const t = label(g, x, y, "S", { size, bold, fill: "#000" });
  t.append("tspan").attr("font-size", size * 0.62).attr("dy", size * 0.18).text("I");
  return t;
}

function powerText(g: Sel, x: number, y: number, main: string, exp: string, size: number, len: number) {
  const t = label(g, x, y, main, { size, len });
  t.append("tspan").attr("font-size", size * 0.62).attr("dy", -size * 0.36).text(exp);
  return t;
}

// speckle texture for the dense cloud above the solid band
const speckle = [0, 14, 5, 19, 9, 2, 16, 7, 21, 11, 3, 18, 6, 13, 1, 20, 8, 15, 4, 22, 10, 17, 12];

function drawManhattan(svg: Sel, cfg: any) {
  const g = svg.append("g");
  const x = d3.scaleLinear().domain([0, chrStart[22]]).range(cfg.xRange);
  const y = d3.scaleLinear().domain(cfg.yDomain).range(cfg.yRange);
  const clipId = `clip-${cfg.id}`;
  svg.append("clipPath").attr("id", clipId).append("rect")
    .attr("x", cfg.frame[0]).attr("y", cfg.frame[1])
    .attr("width", cfg.frame[2] - cfg.frame[0]).attr("height", cfg.frame[3] - cfg.frame[1]);

  g.append("rect")
    .attr("x", cfg.frame[0]).attr("y", cfg.frame[1])
    .attr("width", cfg.frame[2] - cfg.frame[0]).attr("height", cfg.frame[3] - cfg.frame[1])
    .attr("fill", "#fff").attr("stroke", "#b4b8b4").attr("stroke-width", 2.5);
  g.append("line").attr("x1", cfg.frame[0]).attr("x2", cfg.frame[2])
    .attr("y1", y(6)).attr("y2", y(6)).attr("stroke", "#e6e6e6").attr("stroke-width", 2.5);

  const marks = g.append("g").attr("clip-path", `url(#${clipId})`);
  const baseY = cfg.baseY;
  const dotted = (cx: number, a: number, b: number, color: string, period: number, off: number) => {
    marks.append("line").attr("x1", cx).attr("x2", cx)
      .attr("y1", y(a)).attr("y2", y(b))
      .attr("stroke", color).attr("stroke-width", 6.4).attr("stroke-linecap", "round")
      .attr("stroke-dasharray", `0.1 ${period}`).attr("stroke-dashoffset", off % period);
  };
  chrColors.forEach((color, i) => {
    const x0 = x(chrStart[i]);
    const x1 = x(chrStart[i + 1]);
    const solid = cfg.solid[i];
    const cloud = cfg.cloud[i];
    const segW = (x1 - x0) / solid.length;
    solid.forEach((s: number, k: number) => {
      marks.append("rect")
        .attr("x", x0 + k * segW).attr("width", segW + 0.6)
        .attr("y", y(s)).attr("height", Math.max(0, baseY - y(s)))
        .attr("fill", color);
    });
    d3.range(x0 + 3, x1 - 1, 5.5).forEach((cx, c) => {
      const k = Math.min(solid.length - 1, Math.floor((cx - x0) / segW));
      const s = solid[k];
      const top = cloud[k] + ((speckle[(c + i) % 23] - 11) / 11) * 0.35;
      const low = s + (top - s) * 0.3;
      const mid = s + (top - s) * 0.6;
      dotted(cx, s - 0.12, low, color, 8, speckle[(c * 3 + i) % 23]);
      dotted(cx, low, mid, color, 13, speckle[(c * 5 + i) % 23]);
      dotted(cx, mid, top, color, 23, speckle[(c * 7 + i) % 23]);
    });
    marks.selectAll(null).data(cfg.dots[i]).enter().append("circle")
      .attr("cx", (d: any) => x(d[0])).attr("cy", (d: any) => y(d[1]))
      .attr("r", 3.6).attr("fill", color);
  });
  gaps.forEach((gap) => {
    marks.append("rect").attr("x", x(gap[0])).attr("width", x(gap[1]) - x(gap[0]))
      .attr("y", y(3.9)).attr("height", baseY - y(3.9) + 1).attr("fill", "#fff");
  });

  const axis = g.append("g").attr("transform", `translate(${cfg.frame[0]},0)`)
    .call(d3.axisLeft(y).tickValues(cfg.yTicks).tickSize(6).tickPadding(4).tickFormat(d3.format("d")));
  axis.select(".domain").remove();
  axis.selectAll("line").attr("stroke", "#888");
  axis.selectAll("text")
    .attr("font-family", FONT).attr("font-size", 13).attr("fill", "#777")
    .attr("text-anchor", "middle").attr("x", 0).attr("dy", 0)
    .attr("transform", "translate(-24,0) rotate(-90)");

  const yl = label(g, cfg.frame[0] - 60, cfg.ylabelY, "\u2212log", { size: 17, rotate: -90, anchor: "middle", fill: "#777" });
  yl.append("tspan").attr("font-size", 12).attr("dy", 3).text("10");
  yl.append("tspan").attr("dy", -3).attr("font-style", "italic").text("(p)");
}

function drawQQ(svg: Sel, cfg: any) {
  const g = svg.append("g");
  const [ox0, oy0, ox1, oy1] = cfg.outer;
  const [ix0, iy0, ix1, iy1] = cfg.inner;
  const x = d3.scaleLinear().domain([0, 6]).range(cfg.xRange);
  const y = d3.scaleLinear().domain(cfg.yDomain).range(cfg.yRange);
  g.append("rect").attr("x", ox0).attr("y", oy0).attr("width", ox1 - ox0).attr("height", oy1 - oy0)
    .attr("fill", "#fff").attr("stroke", "#555e5c").attr("stroke-width", 2);
  g.append("rect").attr("x", ix0).attr("y", iy0).attr("width", ix1 - ix0).attr("height", iy1 - iy0)
    .attr("fill", "none").attr("stroke", "#8b9290").attr("stroke-width", 1.6);

  const line = d3.line().x((d: any) => x(d[0])).y((d: any) => y(d[1])).curve(d3.curveMonotoneX);
  g.append("path").attr("d", line(cfg.dense)).attr("fill", "none")
    .attr("stroke", "#3b3be0").attr("stroke-width", 8).attr("stroke-linecap", "round").attr("stroke-linejoin", "round");
  g.selectAll(null).data(cfg.tail).enter().append("circle")
    .attr("cx", (d: any) => x(d[0])).attr("cy", (d: any) => y(d[1]))
    .attr("r", 3.6).attr("fill", "#fff").attr("stroke", "#6a6aee").attr("stroke-width", 1.1);

  const refEnd = x.invert(ix1);
  const refStart = x.invert(ix0);
  g.append("line").attr("x1", ix0).attr("y1", y(refStart)).attr("x2", ix1).attr("y2", y(refEnd))
    .attr("stroke", "#f4688a").attr("stroke-width", 1.6);

  const xa = g.append("g").attr("transform", `translate(0,${iy1})`)
    .call(d3.axisBottom(x).tickValues(qqXTicks).tickSize(6).tickPadding(5).tickFormat(d3.format("d")));
  xa.select(".domain").remove();
  xa.selectAll("line").attr("stroke", "#8b9290");
  xa.selectAll("text").attr("font-family", FONT).attr("font-size", 13).attr("fill", "#555");
  const ya = g.append("g").attr("transform", `translate(${ix0},0)`)
    .call(d3.axisLeft(y).tickValues(cfg.yTicks).tickSize(6).tickPadding(5).tickFormat(d3.format("d")));
  ya.select(".domain").remove();
  ya.selectAll("line").attr("stroke", "#8b9290");
  ya.selectAll("text").attr("font-family", FONT).attr("font-size", 13).attr("fill", "#555");

  label(g, (ox0 + ox1) / 2, iy0 - 10, cfg.title, { size: 12.5, bold: true, anchor: "middle", fill: "#222" });
  label(g, (ox0 + ox1) / 2, iy1 + 44, "Expected -log10(p)", { size: 13, anchor: "middle", fill: "#666" });
  label(g, ix0 - 37, (iy0 + iy1) / 2 - 2, "Observed -log10(p)", { size: 13, rotate: -90, anchor: "middle", fill: "#666" });
}

function drawLocus(svg: Sel, cfg: any) {
  const g = svg.append("g");
  const [x0, y0, x1, y1] = cfg.frame;
  const x = d3.scaleLinear().domain(posDomain).range([x0, x1]);
  const y = d3.scaleLinear().domain([0, 10]).range(cfg.yRange);
  const yr = d3.scaleLinear().domain([0, 100]).range(cfg.yRange);
  g.append("rect").attr("x", x0).attr("y", y0).attr("width", x1 - x0).attr("height", y1 - y0)
    .attr("fill", "#fff").attr("stroke", "#8b9290").attr("stroke-width", 2.2);

  g.append("line").attr("x1", x(recombStart)).attr("x2", x(recombEnd))
    .attr("y1", y(0)).attr("y2", y(0)).attr("stroke", "#3a50e8").attr("stroke-width", 3.5);

  const diamond = d3.symbol().type(d3.symbolDiamond2).size(180);
  g.selectAll(null).data(cfg.points).enter().append("path")
    .attr("d", diamond as any)
    .attr("transform", (d: any) => `translate(${x(d[0])},${y(d[1])})`)
    .attr("fill", "#7f8c8a").attr("stroke", "#5e6a68").attr("stroke-width", 1);
  g.append("path").attr("d", d3.symbol().type(d3.symbolDiamond2).size(165)() as string)
    .attr("transform", `translate(${x(cfg.lead[0])},${y(cfg.lead[1])})`)
    .attr("fill", "#5533dd");
  label(g, x(cfg.lead[0]), y(cfg.lead[1]) - 14, cfg.leadName, { size: 24, anchor: "middle", fill: "#2c4a48", len: 141 });

  const la = g.append("g").attr("transform", `translate(${x0},0)`)
    .call(d3.axisLeft(y).tickValues(leftTicks).tickSize(12).tickPadding(7).tickFormat(d3.format("d")));
  la.select(".domain").remove();
  la.selectAll("line").attr("stroke", "#9aa09e").attr("stroke-width", 1.6);
  la.selectAll("text").attr("font-family", FONT).attr("font-size", 23).attr("fill", "#8d9491");
  const ra = g.append("g").attr("transform", `translate(${x1},0)`)
    .call(d3.axisRight(yr).tickValues(rightTicks).tickSize(12).tickPadding(13).tickFormat(d3.format("d")));
  ra.select(".domain").remove();
  ra.selectAll("line").attr("stroke", "#6a6af2").attr("stroke-width", 1.8);
  ra.selectAll("text").attr("font-family", FONT).attr("font-size", 23).attr("fill", "#6a6af2");

  const midY = (y(0) + y(10)) / 2;
  const yl = label(g, x0 - 72, midY, "\u2212log", { size: 20, rotate: -90, anchor: "middle", fill: "#8d9491" });
  yl.append("tspan").attr("font-size", 13).attr("dy", 3).text("10");
  yl.append("tspan").attr("dy", -3).text("(p\u2212value)");
  label(g, x1 + 68, midY, "Recombination rate (cM/Mb)", { size: 20, rotate: 90, anchor: "middle", fill: "#5a5af0", len: 267 });
}

function drawScatter(svg: Sel, cfg: any) {
  const g = svg.append("g");
  const [x0, y0, x1, y1] = cfg.frame;
  const x = d3.scaleLinear().domain(cfg.xDomain).range(cfg.xRange);
  const y = d3.scaleLinear().domain([0.6, 0.9]).range(cfg.yRange);
  g.append("rect").attr("x", x0).attr("y", y0).attr("width", x1 - x0).attr("height", y1 - y0)
    .attr("fill", "#fff").attr("stroke", "#222").attr("stroke-width", 2);
  g.selectAll(null).data(cfg.points).enter().append("circle")
    .attr("cx", (d: any) => x(d[0])).attr("cy", (d: any) => y(d[1]))
    .attr("r", 3.2).attr("fill", "#fff").attr("stroke", "#1a1a1a").attr("stroke-width", 2.2);
  g.selectAll(null).data(cfg.heavy).enter().append("circle")
    .attr("cx", (d: any) => x(d[0])).attr("cy", (d: any) => y(d[1]))
    .attr("r", 5).attr("fill", "#111");
  g.append("line")
    .attr("x1", x(cfg.fit[0][0])).attr("y1", y(cfg.fit[0][1]))
    .attr("x2", x(cfg.fit[1][0])).attr("y2", y(cfg.fit[1][1]))
    .attr("stroke", "#222").attr("stroke-width", 2);

  const xa = g.append("g").attr("transform", `translate(0,${y1})`)
    .call(d3.axisBottom(x).tickValues(cfg.xTicks).tickSize(8).tickPadding(9).tickFormat(d3.format(cfg.xFormat)));
  xa.select(".domain").remove();
  xa.selectAll("line").attr("stroke", "#222");
  xa.selectAll("text").attr("font-family", FONT).attr("font-size", 19).attr("fill", "#444");
  const ya = g.append("g").attr("transform", `translate(${x0},0)`)
    .call(d3.axisLeft(y).tickValues(methTicks).tickSize(8).tickFormat(d3.format(".2f")));
  ya.select(".domain").remove();
  ya.selectAll("line").attr("stroke", "#222");
  ya.selectAll("text")
    .attr("font-family", FONT).attr("font-size", 19).attr("fill", "#777")
    .attr("text-anchor", "middle").attr("x", 0).attr("dy", 0)
    .attr("transform", "translate(-20,0) rotate(-90)");
  if (cfg.ylabelX) {
    label(g, cfg.ylabelX, 2354, "chr17:7,757,001\u22127,758,000 methylation level", { size: 21, rotate: -90, anchor: "middle", fill: "#666", len: 372 });
  }
}

function drawHeatmap(svg: Sel) {
  const g = svg.append("g");
  const hx = d3.scaleLinear().domain([0, 18]).range([2423.7, 2423.7 + 18 * 62.1]);
  const hy = d3.scaleLinear().domain([0, 18]).range([2372, 2372 + 18 * 30.9]);
  const color = d3.scaleLinear<string>().domain(heatDomain).range(heatRange);
  const hw = 31;
  const hh = 30;
  heatRows.forEach((row, r) => {
    row.forEach((v, c) => {
      const cx = hx(c + r / 2);
      const cy = hy(r);
      g.append("path")
        .attr("d", `M${cx},${cy - hh}L${cx + hw},${cy}L${cx},${cy + hh}L${cx - hw},${cy}Z`)
        .attr("fill", color(v)).attr("stroke", "#fff").attr("stroke-width", 1.4);
    });
  });
}

function legendBar(svg: Sel, cfg: any) {
  const g = svg.append("g");
  const grad = svg.append("defs").append("linearGradient").attr("id", cfg.id)
    .attr("x1", 0).attr("x2", 0).attr("y1", 0).attr("y2", 1);
  cfg.stops.forEach((s: any) => {
    grad.append("stop").attr("offset", s[0]).attr("stop-color", s[1]);
  });
  g.append("rect").attr("x", cfg.x).attr("y", cfg.y0).attr("width", cfg.w).attr("height", cfg.y1 - cfg.y0)
    .attr("fill", `url(#${cfg.id})`);
  cfg.tickValues.forEach((v: number, i: number) => {
    const py = cfg.tickY[i];
    if (cfg.whiteTicks.includes(v)) {
      g.append("line").attr("x1", cfg.x + cfg.w * 0.5).attr("x2", cfg.x + cfg.w)
        .attr("y1", py).attr("y2", py).attr("stroke", "#ffd0e0").attr("stroke-width", 2);
    }
    label(g, cfg.labelX, cfg.labelY[i] + 12, cfg.labels[i], { size: 32, len: cfg.labels[i].length > 3 ? 50 : 41 }).attr("font-weight", "bold").attr("fill", "#111");
  });
  label(g, cfg.titleX, cfg.titleY, "Spearman", { size: 30, bold: true, len: 150, fill: "#111" });
  label(g, cfg.titleX, cfg.titleY + 38, "Correlation", { size: 30, bold: true, len: 164, fill: "#111" });
}

export default function App() {
  const ref = useRef<SVGSVGElement>(null);

  useEffect(() => {
    if (!ref.current) return;
    const svg = d3.select(ref.current);
    svg.selectAll("*").remove();
    svg.append("rect").attr("width", 4001).attr("height", 3001).attr("fill", "#fff");

    // -----------------------------
    // MANHATTAN PANELS
    // -----------------------------
    drawManhattan(svg, { id: "a", frame: [153, 178, 1574, 644], xRange: [156, 1570.5], yDomain: [2, 8], yRange: [576, 234], baseY: 644, solid: solidA, cloud: cloudA, dots: dotsA, yTicks: [2, 4, 6, 8], ylabelY: 443 });
    drawManhattan(svg, { id: "b", frame: [155, 662, 1576, 1148], xRange: [158, 1573], yDomain: [2, 6], yRange: [1037.5, 768], baseY: 1148, solid: solidB, cloud: cloudB, dots: dotsB, yTicks: [2, 4, 6], ylabelY: 927 });
    drawManhattan(svg, { id: "c", frame: [158, 1166.5, 1579, 1698], xRange: [163, 1576], yDomain: [0, 8], yRange: [1677.7, 1196], baseY: 1681, solid: solidC, cloud: cloudC, dots: dotsC, yTicks: [0, 2, 4, 6, 8], ylabelY: 1433 });

    panelLetter(svg, 176, 285, "A");
    label(svg, 389, 239, "Matsuda Index", { size: 46, bold: true, len: 327 });
    panelLetter(svg, 181, 768, "B");
    siTitle(svg, 426, 719, 46);
    panelLetter(svg, 176, 1272, "C");
    label(svg, 426, 1233, "BMI", { size: 46, bold: true, len: 82 });

    const cx = d3.scaleLinear().domain([0, chrStart[22]]).range([163, 1576]);
    chrTicks.forEach((t, i) => {
      svg.append("line").attr("x1", cx(t)).attr("x2", cx(t)).attr("y1", 1698).attr("y2", 1707)
        .attr("stroke", "#777").attr("stroke-width", 1.4);
      label(svg, cx(t), i % 2 === 0 ? 1720 : 1733, chrLabels[i], { size: 16, anchor: "middle", fill: "#555" });
    });
    label(svg, 774, 1820, "Chromosomes", { size: 60, anchor: "middle", len: 364 });
    label(svg, 42, 885, "-log 10 (P-value)", { size: 55, rotate: -90, anchor: "middle", len: 425 });

    // -----------------------------
    // QQ PANELS
    // -----------------------------
    drawQQ(svg, { outer: [1739, 172, 2371, 647], inner: [1796, 206, 2359, 588], xRange: [1804, 2348], yDomain: [0, 8], yRange: [580, 228], dense: qqDenseD, tail: qqTailD, title: "Matsuda Index", yTicks: qqYTicksTall });
    drawQQ(svg, { outer: [1748, 678, 2381, 1159], inner: [1806, 712, 2368, 1091], xRange: [1813, 2358], yDomain: [0, 6], yRange: [1084, 771], dense: qqDenseE, tail: qqTailE, title: "SI", yTicks: qqYTicksShort });
    drawQQ(svg, { outer: [1739, 1190.6, 2371, 1665], inner: [1797, 1224, 2360, 1606], xRange: [1804.6, 2350.5], yDomain: [0, 8], yRange: [1598.6, 1231.7], dense: qqDenseF, tail: qqTailF, title: "BMI", yTicks: qqYTicksTall });
    panelLetter(svg, 1812, 321, "D");
    panelLetter(svg, 1828, 834, "E");
    panelLetter(svg, 1812, 1329, "F");
    label(svg, 1709, 993, "Observed [-log 10 (P-value)]", { size: 60, rotate: -90, anchor: "middle", len: 705 });
    label(svg, 2040, 1741, "Expected [-log 10 (P-value)]", { size: 56, anchor: "middle", len: 576 });

    // -----------------------------
    // REGIONAL PANELS
    // -----------------------------
    drawLocus(svg, { frame: [2549.5, 10, 3576, 654], yRange: [625, 41], points: locusG, lead: leadG, leadName: "chr17:7757500" });
    drawLocus(svg, { frame: [2555, 672.5, 3578, 1311], yRange: [1282, 702], points: locusH, lead: leadH, leadName: "chr17:7757500" });
    drawLocus(svg, { frame: [2554.5, 1328, 3583, 1972.5], yRange: [1944, 1359], points: locusI, lead: leadI, leadName: "chr17:7757490" });
    panelLetter(svg, 2572, 119, "G");
    label(svg, 2874, 80, "Matsuda Index", { size: 48, bold: true, len: 326 });
    panelLetter(svg, 2572, 787, "H");
    siTitle(svg, 2968, 759, 46);
    panelLetter(svg, 2578, 1462, "I");
    label(svg, 2968, 1406, "BMI", { size: 46, bold: true, len: 87 });
    label(svg, 2446, 960, "-log 10 (P-value)", { size: 60, bold: true, rotate: -90, anchor: "middle", len: 431 });

    // gene track
    const geneX = d3.scaleLinear().domain(posDomain).range([2554.5, 3583]);
    const geneRowY = [2027, 2068.5];
    const geneLabelY = [2020, 2060];
    svg.append("rect").attr("x", 2554.5).attr("y", 1997).attr("width", 1028.5).attr("height", 84)
      .attr("fill", "#fff").attr("stroke", "#8b9290").attr("stroke-width", 2);
    geneIntrons.forEach((d) => {
      svg.append("line").attr("x1", geneX(d[0])).attr("x2", geneX(d[1])).attr("y1", geneRowY[0]).attr("y2", geneRowY[0])
        .attr("stroke", "#6a6ae0").attr("stroke-width", 1.6);
    });
    geneExons.forEach((d) => {
      svg.append("rect").attr("x", geneX(d[0])).attr("width", geneX(d[1]) - geneX(d[0]))
        .attr("y", geneRowY[d[2]] - 3.5).attr("height", 7).attr("fill", "#0000c8");
    });
    geneNames.forEach((n, i) => {
      label(svg, geneX(geneNameStarts[i]), geneLabelY[geneNameRows[i]], n, { size: 18, italic: true, len: geneNameLengths[i], fill: "#111" });
    });
    const posAxis = svg.append("g").attr("transform", "translate(0,2081)")
      .call(d3.axisBottom(geneX).tickValues(posTicks).tickSize(12).tickPadding(14).tickFormat((_, i) => posTickLabels[i]));
    posAxis.select(".domain").remove();
    posAxis.selectAll("line").attr("stroke", "#8b9290").attr("stroke-width", 1.4);
    posAxis.selectAll("text").attr("font-family", FONT).attr("font-size", 21).attr("fill", "#8d9491");
    label(svg, 3068, 2157, "Position on chr17 (Mb)", { size: 20, anchor: "middle", fill: "#8d9491", len: 214 });

    // connectors and star
    const connector = d3.line();
    svg.append("path").attr("d", connector([[2683, 2136], [2683, 2201], [2369, 2311]])).attr("fill", "none").attr("stroke", "#111").attr("stroke-width", 8);
    svg.append("path").attr("d", connector([[2884.5, 2136], [2884.5, 2201], [3553, 2302]])).attr("fill", "none").attr("stroke", "#111").attr("stroke-width", 8);

    // -----------------------------
    // HEATMAP + LEGENDS
    // -----------------------------
    drawHeatmap(svg);
    svg.append("path").attr("d", d3.symbol().type(d3.symbolStar).size(700)() as string)
      .attr("transform", "translate(2766,2336)").attr("fill", "#111");
    legendBar(svg, {
      id: "legend-full", x: 3450, w: 66, y0: 2622, y1: 2951,
      stops: [[0, "#ff0000"], [0.12, "#ff1f3c"], [0.25, "#ff6a9a"], [0.4, "#ffc4d8"], [0.5, "#ffffff"], [0.6, "#d8d8f6"], [0.75, "#8f8fe8"], [0.88, "#4a52ee"], [1, "#2233ff"]],
      tickValues: legendLeftTicks, tickY: [2622, 2701, 2785, 2869, 2951], whiteTicks: [0.5, -0.5],
      labels: legendLeftLabels, labelX: 3542, labelY: [2625, 2701, 2785, 2870, 2945],
      titleX: 3447, titleY: 2540,
    });
    legendBar(svg, {
      id: "legend-zoom", x: 3809, w: 67, y0: 2618, y1: 2945,
      stops: [[0, "#ff0000"], [0.2, "#ff1a30"], [0.4, "#ff4d78"], [0.6, "#ff8fb6"], [0.8, "#ffcbdf"], [1, "#ffffff"]],
      tickValues: legendRightTicks, tickY: [2618, 2684, 2749, 2813, 2879, 2945], whiteTicks: [0.8, 0.6, 0.4, 0.2],
      labels: legendRightLabels, labelX: 3890, labelY: [2622, 2684, 2749, 2813, 2879, 2947],
      titleX: 3808, titleY: 2536,
    });
    svg.append("line").attr("x1", 3631).attr("y1", 2612).attr("x2", 3773).attr("y2", 2612)
      .attr("stroke", "#111").attr("stroke-width", 9).attr("stroke-dasharray", "28 10");
    svg.append("line").attr("x1", 3611).attr("y1", 2781).attr("x2", 3771).attr("y2", 2980)
      .attr("stroke", "#111").attr("stroke-width", 9).attr("stroke-dasharray", "28 10");

    // -----------------------------
    // SCATTER PANELS
    // -----------------------------
    drawScatter(svg, { frame: [271.5, 2095, 845, 2617], xDomain: [0, 4], xRange: [321, 832], yRange: [2585, 2095], points: scatterJ, heavy: heavyJ, fit: fitJ, xTicks: logTicksJ, xFormat: "d" });
    drawScatter(svg, { frame: [943, 2095, 1516, 2618], xDomain: [-1, 3], xRange: [1032, 1484.6], yRange: [2585, 2095], points: scatterK, heavy: heavyK, fit: fitK, xTicks: logTicksK, xFormat: "d", ylabelX: 883 });
    drawScatter(svg, { frame: [1606.5, 2093.6, 2177, 2615.6], xDomain: [4.5, 6.5], xRange: [1681, 2156], yRange: [2583, 2093.6], points: scatterL, heavy: heavyL, fit: fitL, xTicks: sqrtTicksL, xFormat: ".1f", ylabelX: 1547 });
    panelLetter(svg, 270, 2020, "J");
    panelLetter(svg, 955, 2020, "K");
    panelLetter(svg, 1608, 2020, "L");
    label(svg, 142, 2366, "Methylation in CpG region", { size: 46, bold: true, rotate: -90, anchor: "middle", len: 582 });
    label(svg, 198, 2366, "chr17:7,757,001-7,758,000", { size: 46, bold: true, rotate: -90, anchor: "middle", len: 569 });
    label(svg, 522, 2714, "Log(Matsuda Index)", { size: 46, bold: true, anchor: "middle", len: 442 });
    const logSi = label(svg, 1136, 2720, "Log(S", { size: 46, bold: true });
    logSi.append("tspan").attr("font-size", 28).attr("dy", 8).text("I");
    logSi.append("tspan").attr("font-size", 46).attr("dy", -8).text(")");
    label(svg, 1881, 2706, "Sqrt(BMI)", { size: 46, bold: true, anchor: "middle", len: 208 });

    label(svg, 275, 2553, "\u03b2 = -5.25", { size: 48, len: 184 });
    powerText(svg, 275, 2608, "P = 1.6 X 10", "-7", 48, 285);
    label(svg, 951, 2498, "\u03b2 = -5.92", { size: 48, len: 185 });
    powerText(svg, 951, 2554, "P = 2.51 X 10", "-9", 48, 309);
    label(svg, 1841, 2541, "\u03b2 = 4.5", { size: 48, len: 141 });
    powerText(svg, 1841, 2595, "P = 2.71 X 10", "-11", 48, 326);
  }, []);

  return (
    <svg
      ref={ref}
      width={4001}
      height={3001}
      style={{ position: "absolute", left: 0, top: 0, display: "block" }}
    />
  );
}
